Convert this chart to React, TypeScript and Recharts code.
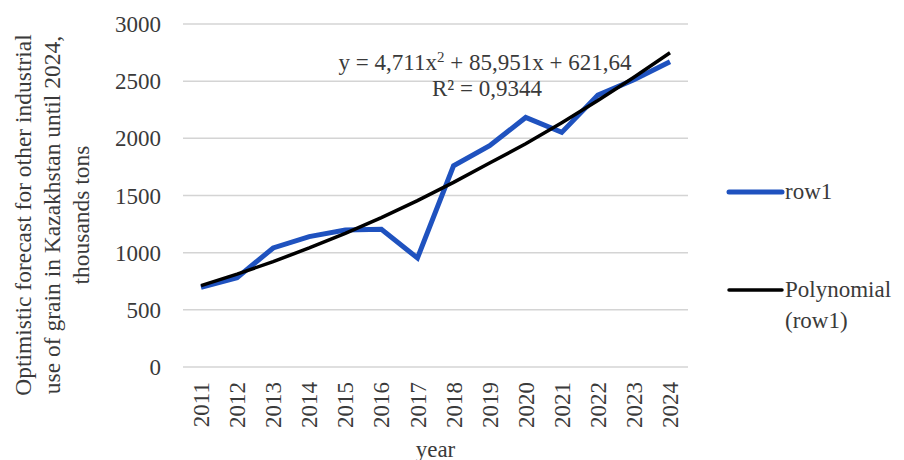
import { CartesianGrid, Customized, Line, LineChart, XAxis, YAxis } from 'recharts'

// ---------------------------------------------------------------------------
// Data
// ---------------------------------------------------------------------------

const YEARS = [
  '2011', '2012', '2013', '2014', '2015', '2016', '2017',
  '2018', '2019', '2020', '2021', '2022', '2023', '2024',
]

const ROW1 = [697, 781, 1041, 1140, 1198, 1205, 953, 1760, 1935, 2183, 2052, 2378, 2512, 2670]

// polynomial trend
const TREND = [712, 812, 922, 1041, 1169, 1307, 1455, 1615, 1784, 1952, 2137, 2331, 2535, 2748]

const Y_TICKS = [0, 500, 1000, 1500, 2000, 2500, 3000]

const Y_LABEL_LINES = [
  'Optimistic forecast for other industrial',
  'use of grain in Kazakhstan until 2024,',
  'thousands tons',
]

const FONT = '"Liberation Serif", "Times New Roman", serif'
const TEXT = '#3a3a3a'
const BLUE = '#1f52bf'

const data = YEARS.map((year, i) => ({ year, row1: ROW1[i], trend: TREND[i] }))

// ---------------------------------------------------------------------------
// Pieces
// ---------------------------------------------------------------------------

function YearTick({ x, payload }: { x: number; y: number; payload: { value: string } }) {
  return (
    <g transform={`translate(${x},382)`}>
      <text
        transform="rotate(-90)"
        textAnchor="end"
        dy="0.35em"
        fontSize={23}
        style={{ fontFamily: FONT }}
        fill={TEXT}
      >
        {payload.value}
      </text>
    </g>
  )
}

function YLabel() {
  return (
    <text
      transform="translate(0,215) rotate(-90)"
      textAnchor="middle"
      fontSize={23.5}
      style={{ fontFamily: FONT }}
      fill={TEXT}
    >
      {Y_LABEL_LINES.map((line, i) => (
        <tspan key={i} x={0} y={31 + i * 29}>
          {line}
        </tspan>
      ))}
    </text>
  )
}

function Equation() {
  return (
    <g style={{ fontFamily: FONT }} fontSize={23} fill={TEXT}>
      <text x={485} y={70} textAnchor="middle">
        y = 4,711x<tspan dy={-8} fontSize={15}>2</tspan>
        <tspan dy={8}> + 85,951x + 621,64</tspan>
      </text>
      <text x={487} y={96} textAnchor="middle">
        R² = 0,9344
      </text>
    </g>
  )
}

function LegendBox() {
  const textStyle = { fontFamily: FONT, fontSize: 23, color: TEXT, lineHeight: '31px' }
  return (
    <div style={{ position: 'absolute', left: 726, top: 175, width: 175, height: 170 }}>
      <svg width={60} height={170} style={{ position: 'absolute', left: 0, top: 0 }}>
        <line x1={3} y1={17} x2={56} y2={17} stroke={BLUE} strokeWidth={5} strokeLinecap="round" />
        <line x1={3} y1={115} x2={56} y2={115} stroke="#000" strokeWidth={3.5} strokeLinecap="round" />
      </svg>
      <div style={{ ...textStyle, position: 'absolute', left: 59, top: 1 }}>row1</div>
      <div style={{ ...textStyle, position: 'absolute', left: 59, top: 99 }}>
        Polynomial
        <br />
        (row1)
      </div>
    </div>
  )
}

// ---------------------------------------------------------------------------
// Chart
// ---------------------------------------------------------------------------

export default function App() {
  return (
    <div
      style={{
        position: 'absolute',
        left: 0,
        top: 0,
        width: 904,
        height: 460,
        background: '#fff',
        fontFamily: FONT,
        overflow: 'hidden',
      }}
    >
      <LineChart width={904} height={460} data={data} margin={{ top: 24, right: 216, left: 0, bottom: 0 }}>
        <CartesianGrid vertical={false} stroke="#d4d4d4" strokeWidth={1.5} />
        <XAxis
          dataKey="year"
          height={93}
          axisLine={false}
          tickLine={false}
          interval={0}
          padding={{ left: 18, right: 18 }}
          tick={YearTick as any}
          label={{
            value: 'year',
            position: 'insideBottom',
            offset: 0,
            dy: -3,
            fontSize: 23,
            fill: TEXT,
            style: { fontFamily: FONT },
          }}
        />
        <YAxis
          width={183}
          domain={[0, 3000]}
          ticks={Y_TICKS}
          axisLine={false}
          tickLine={false}
          tickSize={0}
          tickMargin={22}
          tick={{ fontSize: 23, fill: TEXT, style: { fontFamily: FONT } }}
        />
        <Line
          dataKey="row1"
          name="row1"
          stroke={BLUE}
          strokeWidth={5}
          dot={false}
          isAnimationActive={false}
        />
        <Line
          dataKey="trend"
          name="Polynomial (row1)"
          stroke="#000"
          strokeWidth={3.5}
          dot={false}
          isAnimationActive={false}
        />
        <Customized component={YLabel} />
        <Customized component={Equation} />
      </LineChart>
      <LegendBox />
    </div>
  )
}
